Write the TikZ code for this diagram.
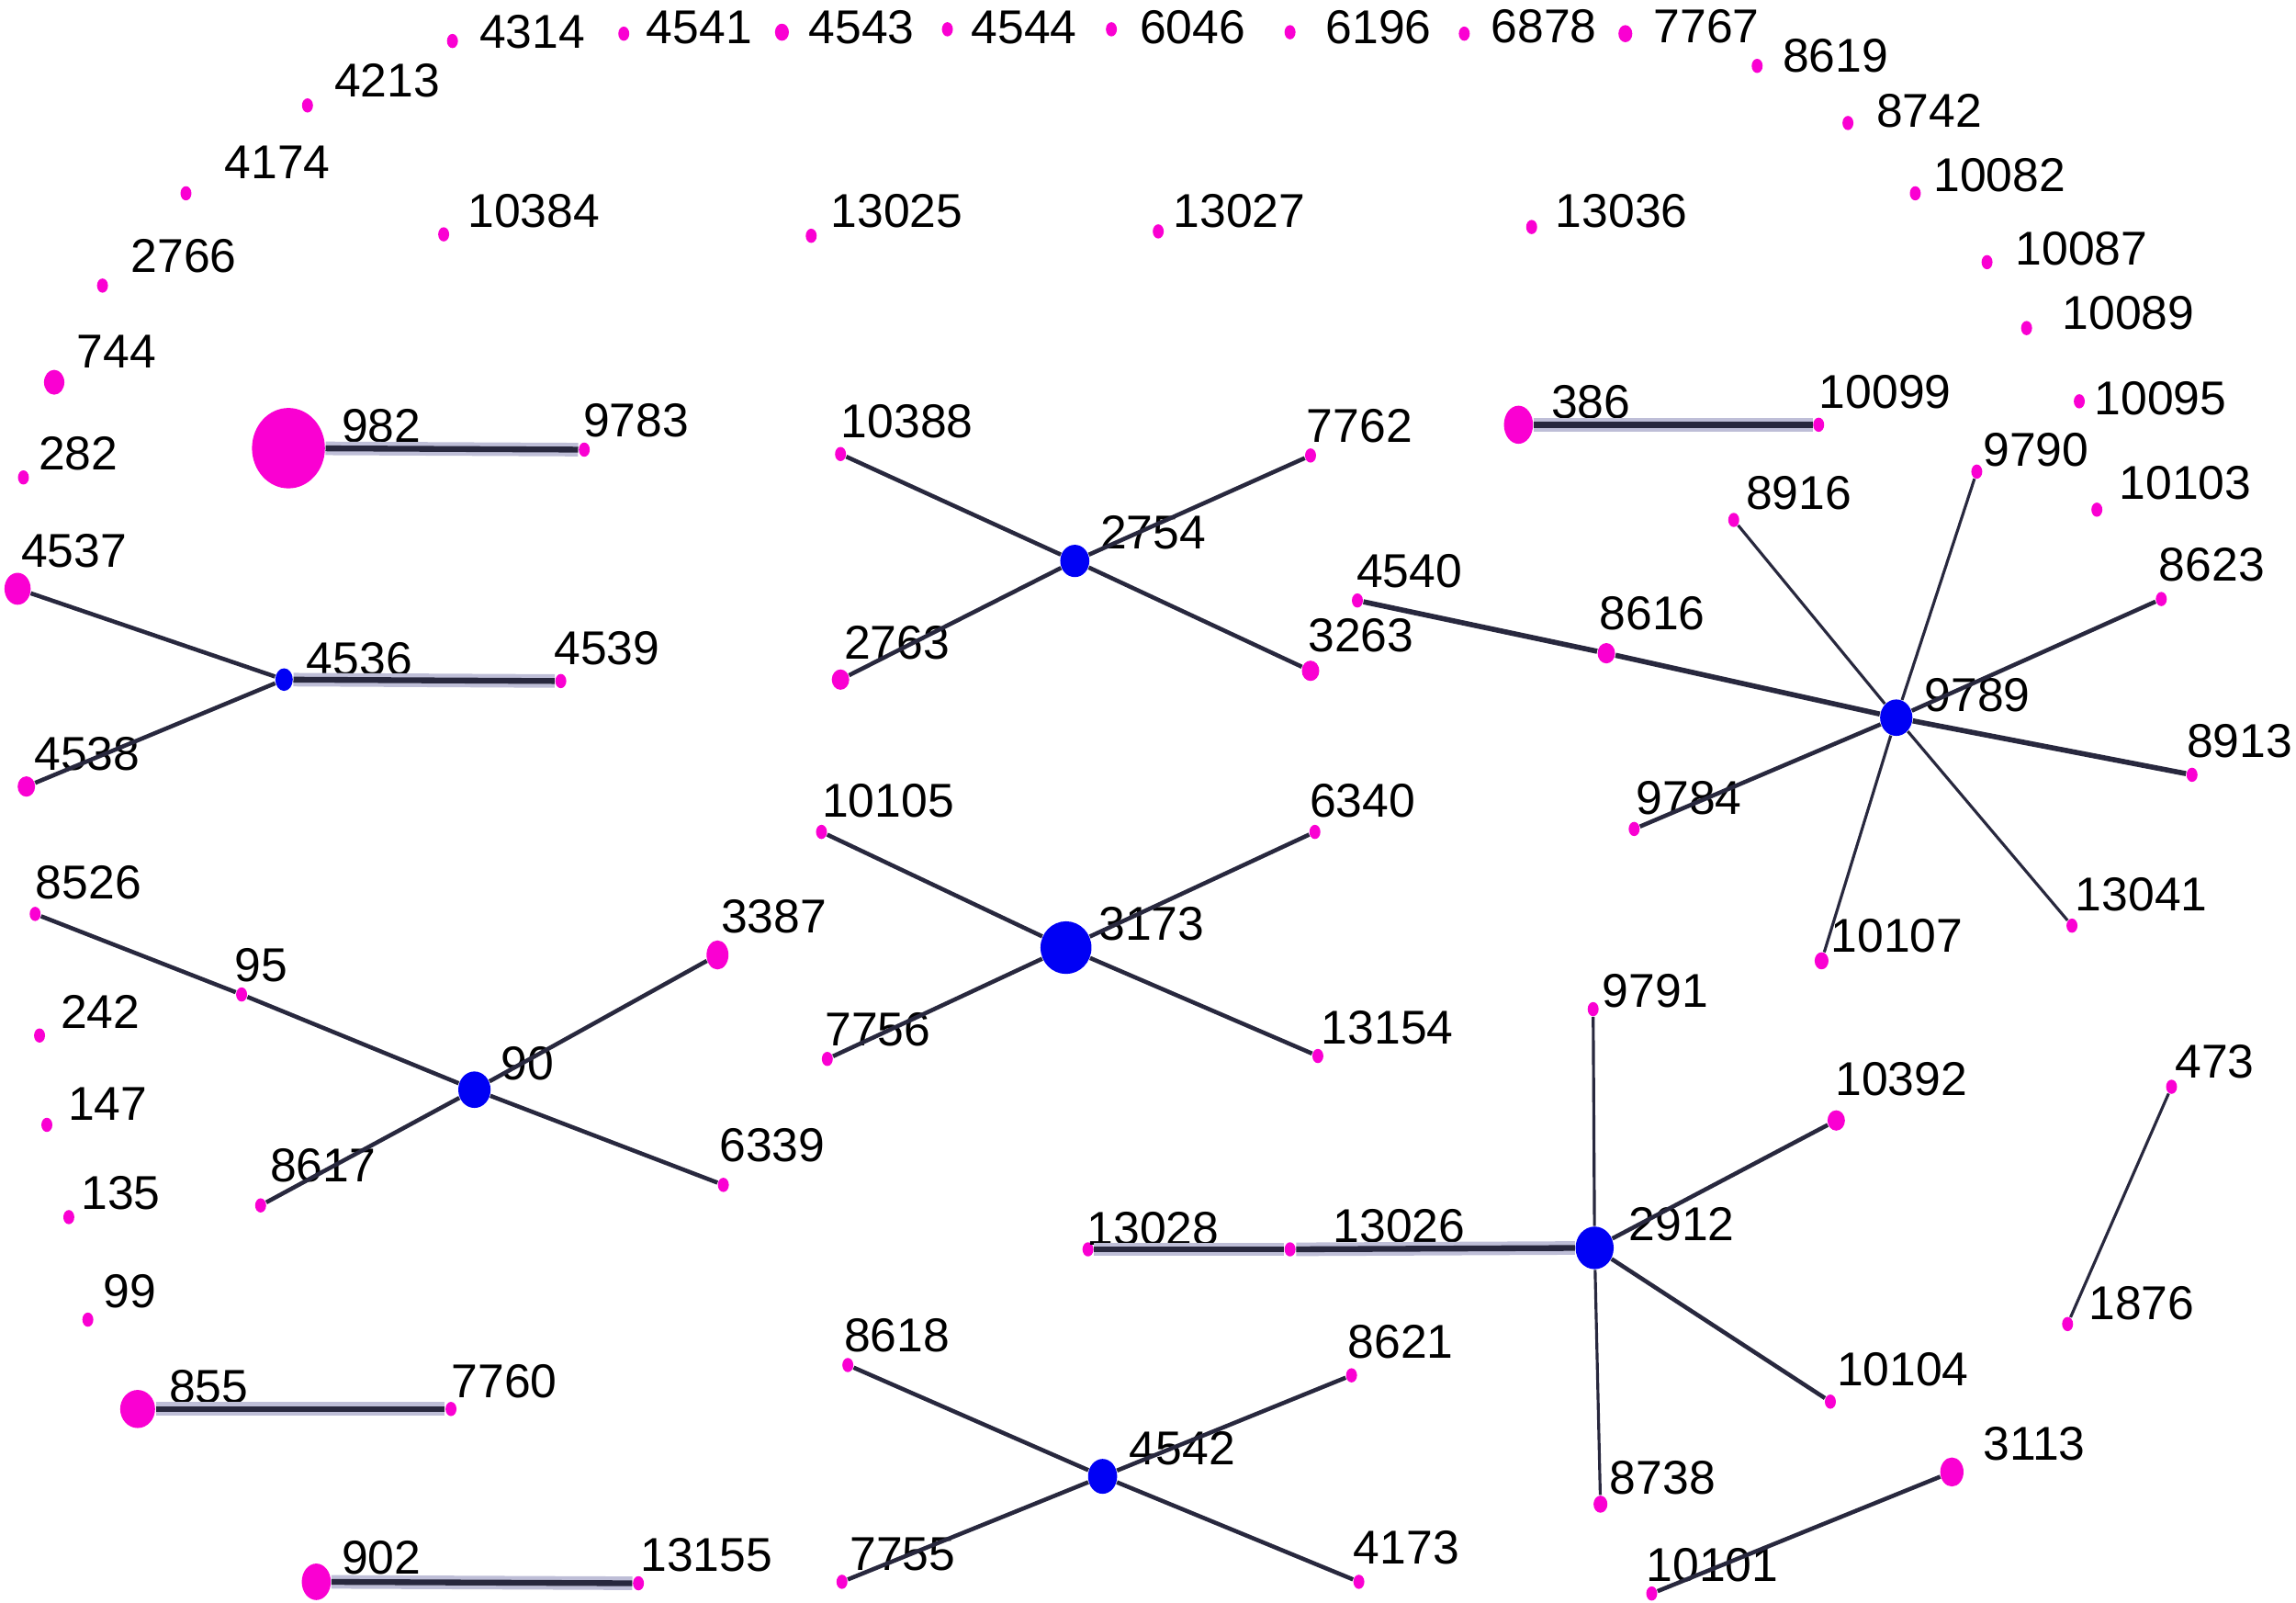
\documentclass[tikz,border=0pt]{standalone}
\usepackage{fontspec}
\setmainfont{Liberation Sans}
\usetikzlibrary{shapes.geometric,positioning}
\definecolor{vpink}{RGB}{250,0,210}
\definecolor{vblue}{RGB}{0,0,245}
\definecolor{edgec}{RGB}{40,40,62}
\definecolor{haloc}{RGB}{190,190,215}
\tikzset{
  pk/.style={ellipse,fill=vpink,inner sep=0pt,minimum width=3.4pt,minimum height=4.4pt},
  pkS/.style={pk,minimum width=4.3pt,minimum height=5.3pt},
  bl/.style={ellipse,fill=vblue,inner sep=0pt},
  sz/.style 2 args={minimum width=#1,minimum height=#2},
  lbl/.style={anchor=base west,inner sep=0pt,font=\fontsize{14.7}{17}\selectfont},
  ln/.style={draw=edgec,line width=1.3pt},
  lnT/.style={draw=edgec,line width=0.9pt},
  lnB/.style={draw=edgec,line width=1.6pt},
  pair/.style={draw=edgec,line width=1.8pt,preaction={draw=haloc,line width=4.2pt}}
}
\begin{document}
\begin{tikzpicture}[x=0.015944cm,y=-0.015944cm]
\useasboundingbox (0,0) rectangle (1568,1094);

% outer ring
\node[pk] (n4314) at (309,28) {};    \node[lbl] (l4314) at (327,33) {4314};
\node[pk] (n4541) at (426,23) {};    \node[lbl] (l4541) at (441,30) {4541};
\node[pkS] (n4543) at (534,22) {};   \node[lbl] (l4543) at (552,30) {4543};
\node[pk] (n4544) at (647,20) {};    \node[lbl] (l4544) at (663,30) {4544};
\node[pk] (n6046) at (759,20) {};    \node[lbl] (l6046) at (778,30) {6046};
\node[pk] (n6196) at (881,22) {};    \node[lbl] (l6196) at (905,30) {6196};
\node[pk] (n6878) at (1000,23) {};   \node[lbl] (l6878) at (1018,29) {6878};
\node[pkS] (n7767) at (1110,23) {};  \node[lbl] (l7767) at (1129,29) {7767};
\node[pk] (n8619) at (1200,45) {};   \node[lbl] (l8619) at (1217,49) {8619};
\node[pk] (n8742) at (1262,84) {};   \node[lbl] (l8742) at (1281,87) {8742};
\node[pk] (n10082) at (1308,132) {}; \node[lbl] (l10082) at (1320,131) {10082};
\node[pk] (n10087) at (1357,179) {}; \node[lbl] (l10087) at (1376,181) {10087};
\node[pk] (n10089) at (1384,224) {}; \node[lbl] (l10089) at (1408,225) {10089};
\node[pk] (n10095) at (1420,274) {}; \node[lbl] (l10095) at (1430,283) {10095};
\node[pk] (n10103) at (1432,348) {}; \node[lbl] (l10103) at (1447,341) {10103};
\node[pk] (n4213) at (210,72) {};    \node[lbl] (l4213) at (228,66) {4213};
\node[pk] (n4174) at (127,132) {};   \node[lbl] (l4174) at (153,122) {4174};
\node[pk] (n2766) at (70,195) {};    \node[lbl] (l2766) at (89,186) {2766};
\node[pk,sz={6.3pt}{7.7pt}] (n744) at (37,261) {}; \node[lbl] (l744) at (52,251) {744};
\node[pk] (n282) at (16,326) {};     \node[lbl] (l282) at (26,321) {282};
\node[pk] (n10384) at (303,160) {};  \node[lbl] (l10384) at (319,155) {10384};
\node[pk] (n13025) at (554,161) {};  \node[lbl] (l13025) at (567,155) {13025};
\node[pk] (n13027) at (791,158) {};  \node[lbl] (l13027) at (801,155) {13027};
\node[pk] (n13036) at (1046,155) {}; \node[lbl] (l13036) at (1062,155) {13036};
\node[pk] (n242) at (27,707) {};     \node[lbl] (l242) at (41,702) {242};
\node[pk] (n147) at (32,768) {};     \node[lbl] (l147) at (46,765) {147};
\node[pk] (n135) at (47,831) {};     \node[lbl] (l135) at (55,826) {135};
\node[pk] (n99) at (60,901) {};      \node[lbl] (l99) at (70,893) {99};

% pairs
\node[pk,sz={22.6pt}{24.9pt}] (n982) at (197,306) {}; \node[lbl] (l982) at (233,302) {982};
\node[pk] (n9783) at (399,307) {};   \node[lbl] (l9783) at (398,298) {9783};
\node[pk,sz={9pt}{11.8pt}] (n386) at (1037,290) {}; \node[lbl] (l386) at (1059,286) {386};
\node[pk] (n10099) at (1242,290) {}; \node[lbl] (l10099) at (1242,279) {10099};
\node[pk,sz={10.8pt}{11.8pt}] (n855) at (94,962) {}; \node[lbl] (l855) at (115,958) {855};
\node[pk] (n7760) at (308,962) {};   \node[lbl] (l7760) at (308,954) {7760};
\node[pk,sz={9pt}{11.3pt}] (n902) at (216,1080) {}; \node[lbl] (l902) at (233,1075) {902};
\node[pk] (n13155) at (436,1081) {}; \node[lbl] (l13155) at (437,1073) {13155};
\node[pk] (n473) at (1483,742) {};   \node[lbl] (l473) at (1485,736) {473};
\node[pk] (n1876) at (1412,904) {};  \node[lbl] (l1876) at (1426,901) {1876};
\node[pk,sz={7.2pt}{9pt}] (n3113) at (1333,1005) {}; \node[lbl] (l3113) at (1354,997) {3113};
\node[pk] (n10101) at (1128,1088) {}; \node[lbl] (l10101) at (1124,1080) {10101};

% 4536
\node[bl,sz={5.4pt}{7pt}] (n4536) at (194,464) {}; \node[lbl] (l4536) at (209,461) {4536};
\node[pk,sz={8.1pt}{9.9pt}] (n4537) at (12,402) {}; \node[lbl] (l4537) at (14,387) {4537};
\node[pk] (n4539) at (383,465) {};   \node[lbl] (l4539) at (378,454) {4539};
\node[pk,sz={5.4pt}{6.3pt}] (n4538) at (18,537) {}; \node[lbl] (l4538) at (23,526) {4538};

% 2754
\node[bl,sz={9pt}{10pt}] (n2754) at (734,383) {}; \node[lbl] (l2754) at (751,375) {2754};
\node[pk] (n10388) at (574,310) {};  \node[lbl] (l10388) at (574,299) {10388};
\node[pk] (n7762) at (895,311) {};   \node[lbl] (l7762) at (892,302) {7762};
\node[pk,sz={5.4pt}{6.3pt}] (n2763) at (574,464) {}; \node[lbl] (l2763) at (576,450) {2763};
\node[pk,sz={5.4pt}{6.3pt}] (n3263) at (895,458) {}; \node[lbl] (l3263) at (893,445) {3263};

% 9789
\node[bl,sz={10pt}{11.3pt}] (n9789) at (1295,490) {}; \node[lbl] (l9789) at (1314,486) {9789};
\node[pk] (n8916) at (1184,355) {};  \node[lbl] (l8916) at (1192,348) {8916};
\node[pk] (n9790) at (1350,322) {};  \node[lbl] (l9790) at (1354,318) {9790};
\node[pk] (n4540) at (927,410) {};   \node[lbl] (l4540) at (926,401) {4540};
\node[pk,sz={5.4pt}{6.3pt}] (n8616) at (1097,446) {}; \node[lbl] (l8616) at (1092,430) {8616};
\node[pk] (n8623) at (1476,409) {};  \node[lbl] (l8623) at (1474,397) {8623};
\node[pk] (n8913) at (1497,529) {};  \node[lbl] (l8913) at (1493,517) {8913};
\node[pk] (n9784) at (1116,566) {};  \node[lbl] (l9784) at (1117,556) {9784};
\node[pkS] (n10107) at (1244,656) {}; \node[lbl] (l10107) at (1250,650) {10107};
\node[pk] (n13041) at (1415,632) {}; \node[lbl] (l13041) at (1417,622) {13041};

% 3173
\node[bl,sz={15.8pt}{16.3pt}] (n3173) at (728,647) {}; \node[lbl] (l3173) at (750,642) {3173};
\node[pk] (n10105) at (561,568) {};  \node[lbl] (l10105) at (561,558) {10105};
\node[pk] (n6340) at (898,568) {};   \node[lbl] (l6340) at (894,558) {6340};
\node[pk] (n7756) at (565,723) {};   \node[lbl] (l7756) at (563,714) {7756};
\node[pk] (n13154) at (900,721) {};  \node[lbl] (l13154) at (902,713) {13154};

% 90
\node[bl,sz={10pt}{11.3pt}] (n90) at (324,744) {}; \node[lbl] (l90) at (342,737) {90};
\node[pk] (n8526) at (24,624) {};    \node[lbl] (l8526) at (24,614) {8526};
\node[pk] (n95) at (165,679) {};     \node[lbl] (l95) at (160,670) {95};
\node[pk,sz={6.8pt}{9pt}] (n3387) at (490,652) {}; \node[lbl] (l3387) at (492,637) {3387};
\node[pk] (n8617) at (178,823) {};   \node[lbl] (l8617) at (184,807) {8617};
\node[pk] (n6339) at (494,809) {};   \node[lbl] (l6339) at (491,793) {6339};

% 2912
\node[bl,sz={11.8pt}{13.2pt}] (n2912) at (1089,852) {}; \node[lbl] (l2912) at (1112,847) {2912};
\node[pk] (n9791) at (1088,689) {};  \node[lbl] (l9791) at (1094,688) {9791};
\node[pk,sz={5.4pt}{6.3pt}] (n10392) at (1254,765) {}; \node[lbl] (l10392) at (1253,748) {10392};
\node[pk] (n10104) at (1250,957) {}; \node[lbl] (l10104) at (1254,946) {10104};
\node[pkS] (n8738) at (1093,1027) {}; \node[lbl] (l8738) at (1099,1020) {8738};
\node[pk] (n13026) at (881,853) {};  \node[lbl] (l13026) at (910,848) {13026};
\node[pk] (n13028) at (743,853) {};  \node[lbl] (l13028) at (742,850) {13028};

% 4542
\node[bl,sz={9pt}{10.8pt}] (n4542) at (753,1008) {}; \node[lbl] (l4542) at (771,1000) {4542};
\node[pk] (n8618) at (579,932) {};   \node[lbl] (l8618) at (576,923) {8618};
\node[pk] (n8621) at (923,939) {};   \node[lbl] (l8621) at (920,927) {8621};
\node[pk] (n7755) at (575,1080) {};  \node[lbl] (l7755) at (580,1072) {7755};
\node[pk] (n4173) at (928,1080) {};  \node[lbl] (l4173) at (924,1068) {4173};

% edges
\draw[pair] (n982) -- (n9783);
\draw[pair] (n386) -- (n10099);
\draw[pair] (n855) -- (n7760);
\draw[pair] (n902) -- (n13155);
\draw[pair] (n4536) -- (n4539);
\draw[pair] (n2912) -- (n13026);
\draw[pair] (n13026) -- (n13028);
\draw[ln] (n4536) -- (n4537);
\draw[ln] (n4536) -- (n4538);
\draw[ln] (n2754) -- (n10388);
\draw[ln] (n2754) -- (n7762);
\draw[ln] (n2754) -- (n2763);
\draw[ln] (n2754) -- (n3263);
\draw[ln] (n3173) -- (n10105);
\draw[ln] (n3173) -- (n6340);
\draw[ln] (n3173) -- (n7756);
\draw[ln] (n3173) -- (n13154);
\draw[ln] (n90) -- (n95);
\draw[ln] (n95) -- (n8526);
\draw[ln] (n90) -- (n3387);
\draw[ln] (n90) -- (n8617);
\draw[ln] (n90) -- (n6339);
\draw[lnB] (n9789) -- (n8616);
\draw[lnB] (n8616) -- (n4540);
\draw[lnB] (n9789) -- (n8913);
\draw[ln] (n9789) -- (n8623);
\draw[ln] (n9789) -- (n9784);
\draw[lnT] (n9789) -- (n8916);
\draw[lnT] (n9789) -- (n9790);
\draw[lnT] (n9789) -- (n10107);
\draw[lnT] (n9789) -- (n13041);
\draw[lnT] (n2912) -- (n9791);
\draw[lnT] (n2912) -- (n8738);
\draw[ln] (n2912) -- (n10392);
\draw[ln] (n2912) -- (n10104);
\draw[ln] (n4542) -- (n8618);
\draw[ln] (n4542) -- (n8621);
\draw[ln] (n4542) -- (n7755);
\draw[ln] (n4542) -- (n4173);
\draw[lnT] (n473) -- (n1876);
\draw[ln] (n3113) -- (n10101);
\end{tikzpicture}
\end{document}
